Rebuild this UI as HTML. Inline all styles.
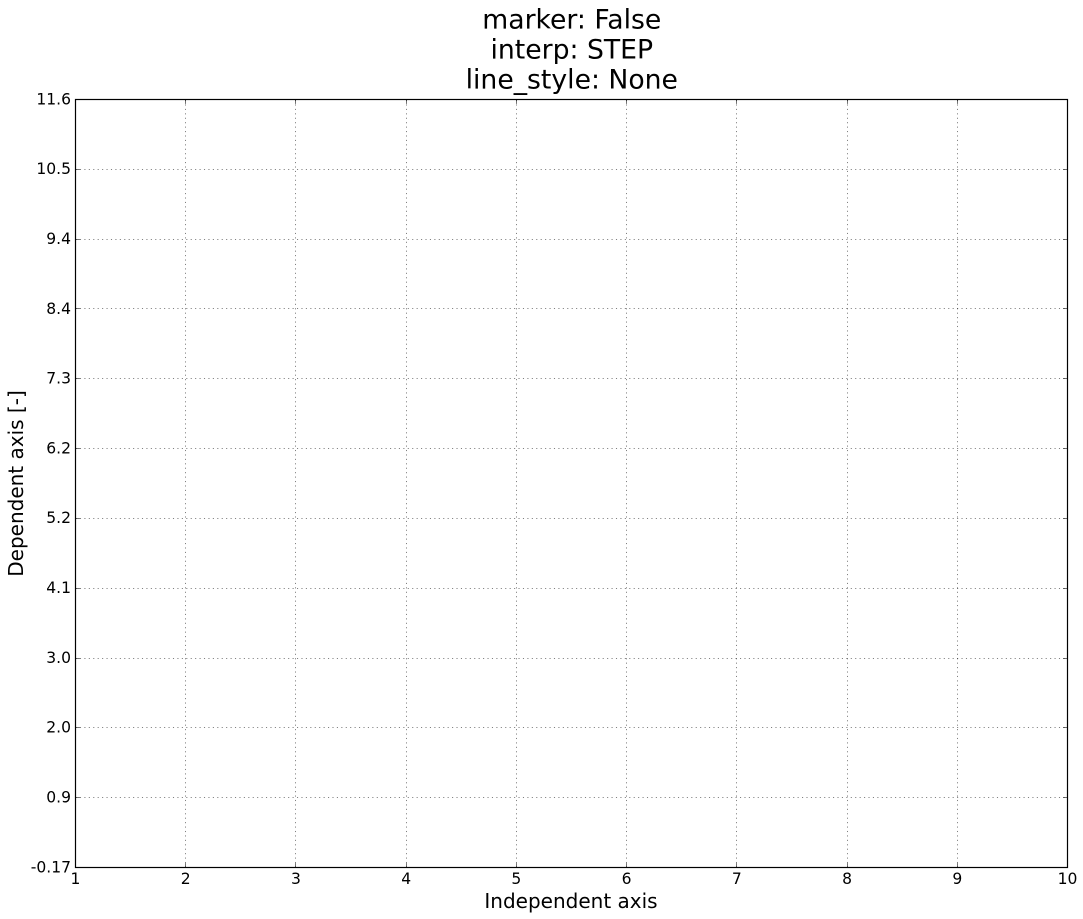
<!DOCTYPE html>
<html lang="en">
<head>
<meta charset="utf-8">
<title>marker: False, interp: STEP, line_style: None</title>
<style>
html,body{margin:0;padding:0;background:#fff;width:1083px;height:919px;overflow:hidden}
svg{display:block}
text{font-family:"DejaVu Sans",sans-serif;fill:#000}
</style>
</head>
<body>
<svg id="chart" xmlns="http://www.w3.org/2000/svg" width="1083" height="919" viewBox="0 0 1083 919" shape-rendering="auto">
<rect x="0" y="0" width="1083" height="919" fill="#fff"/>
<g id="grid"></g>
<g id="ticks"></g>
<rect x="75.5" y="99.5" width="992" height="768" fill="none" stroke="#000" stroke-width="1.2"/>
<g id="labels"></g>
<text x="571.8" y="28.5" font-size="26.67" text-anchor="middle">marker: False</text>
<text x="571.8" y="58.5" font-size="26.67" text-anchor="middle">interp: STEP</text>
<text x="571.8" y="88.5" font-size="26.67" text-anchor="middle">line_style: None</text>
<text x="571" y="908" font-size="20" text-anchor="middle">Independent axis</text>
<text transform="translate(23,483.5) rotate(-90)" font-size="20" text-anchor="middle">Dependent axis [-]</text>
</svg>
<script>
var xTickValues = [1, 2, 3, 4, 5, 6, 7, 8, 9, 10];
var xTickLabels = ['1', '2', '3', '4', '5', '6', '7', '8', '9', '10'];
var yTickValues = [-0.17, 0.9, 1.97, 3.04, 4.11, 5.18, 6.25, 7.32, 8.39, 9.46, 10.53, 11.6];
var yTickLabels = ['-0.17', '0.9', '2.0', '3.0', '4.1', '5.2', '6.2', '7.3', '8.4', '9.4', '10.5', '11.6'];

var NS = 'http://www.w3.org/2000/svg';
var plot = {left: 75.5, right: 1067.5, top: 99.5, bottom: 867.5};
var xDomain = [1, 10];
var yDomain = [-0.17, 11.6];

function xScale(v) {
  return plot.left + (v - xDomain[0]) / (xDomain[1] - xDomain[0]) * (plot.right - plot.left);
}
function yScale(v) {
  return plot.bottom - (v - yDomain[0]) / (yDomain[1] - yDomain[0]) * (plot.bottom - plot.top);
}
function makeLine(x1, y1, x2, y2) {
  var l = document.createElementNS(NS, 'line');
  l.setAttribute('x1', x1);
  l.setAttribute('y1', y1);
  l.setAttribute('x2', x2);
  l.setAttribute('y2', y2);
  return l;
}
function snap(p) {
  return Math.floor(p) + 0.5;
}

var gridGroup = document.getElementById('grid');
var tickGroup = document.getElementById('ticks');
var labelGroup = document.getElementById('labels');
var tickLen = 4.4;

xTickValues.forEach(function (v, i) {
  var x = snap(xScale(v));
  if (i > 0 && i < xTickValues.length - 1) {
    var g = makeLine(x, plot.bottom, x, plot.top);
    
    
    g.setAttribute('stroke', '#000');
    g.setAttribute('stroke-width', '0.5');
    g.setAttribute('stroke-dasharray', '1.1 3.33');
    gridGroup.appendChild(g);
    var t1 = makeLine(x, plot.bottom, x, plot.bottom - tickLen);
    
    
    t1.setAttribute('stroke', '#000');
    t1.setAttribute('stroke-width', '0.55');
    tickGroup.appendChild(t1);
    var t2 = makeLine(x, plot.top, x, plot.top + tickLen);
    
    
    t2.setAttribute('stroke', '#000');
    t2.setAttribute('stroke-width', '0.55');
    tickGroup.appendChild(t2);
  }
  var tx = document.createElementNS(NS, 'text');
  
  
  tx.setAttribute('x', xScale(v));
  tx.setAttribute('y', 884);
  tx.setAttribute('font-size', '15.56');
  tx.setAttribute('text-anchor', 'middle');
  tx.textContent = xTickLabels[i];
  labelGroup.appendChild(tx);
});

yTickValues.forEach(function (v, i) {
  var y = snap(yScale(v));
  if (i > 0 && i < yTickValues.length - 1) {
    var g = makeLine(plot.left, y, plot.right, y);
    
    
    g.setAttribute('stroke', '#000');
    g.setAttribute('stroke-width', '0.5');
    g.setAttribute('stroke-dasharray', '1.1 3.33');
    gridGroup.appendChild(g);
    var t1 = makeLine(plot.left, y, plot.left + tickLen, y);
    
    
    t1.setAttribute('stroke', '#000');
    t1.setAttribute('stroke-width', '0.55');
    tickGroup.appendChild(t1);
    var t2 = makeLine(plot.right, y, plot.right - tickLen, y);
    
    
    t2.setAttribute('stroke', '#000');
    t2.setAttribute('stroke-width', '0.55');
    tickGroup.appendChild(t2);
  }
  var ty = document.createElementNS(NS, 'text');
  
  
  ty.setAttribute('x', 71);
  ty.setAttribute('y', yScale(v) + 4.8);
  ty.setAttribute('font-size', '15.56');
  ty.setAttribute('text-anchor', 'end');
  ty.textContent = yTickLabels[i];
  labelGroup.appendChild(ty);
});
</script>
</body>
</html>
